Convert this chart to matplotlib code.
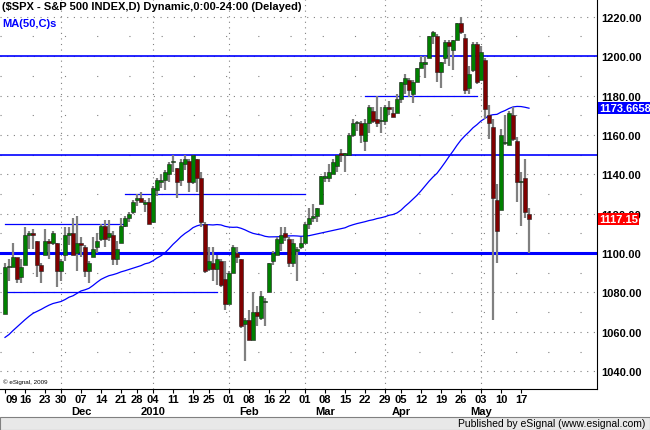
import matplotlib
matplotlib.use("Agg")
import matplotlib.pyplot as plt
import matplotlib.transforms as mtransforms
from matplotlib.patches import Rectangle
import numpy as np
import pandas as pd

# ---- data ----
month_days = {
    (2009, 11): [9,10,11,12,13,16,17,18,19,20,23,24,25,27,30],
    (2009, 12): [1,2,3,4,7,8,9,10,11,14,15,16,17,18,21,22,23,24,28,29,30,31],
    (2010, 1): [4,5,6,7,8,11,12,13,14,15,19,20,21,22,25,26,27,28,29],
    (2010, 2): [1,2,3,4,5,8,9,10,11,12,16,17,18,19,22,23,24,25,26],
    (2010, 3): [1,2,3,4,5,8,9,10,11,12,15,16,17,18,19,22,23,24,25,26,29,30,31],
    (2010, 4): [1,5,6,7,8,9,12,13,14,15,16,19,20,21,22,23,26,27,28,29,30],
    (2010, 5): [3,4,5,6,7,10,11,12,13,14,17,18,19],
}
opens = [1069,1093,1093,1098,1088,1094,1109,1110,1106,1094,1099,1106,1105,1105,1091,
 1099,1109,1110,1100,1105,1103,1091,1098,1103,1107,1114,1108,1109,1097,1105,1114,1118,1121,1127,1128,1125,1126,
 1116,1132,1136,1137,1140,1146,1143,1137,1145,1147,1136,1148,1138,1115,1092,1095,1092,1096,1087,
 1074,1090,1100,1097,1064,1066,1056,1070,1067,1075,1080,1096,1099,1105,1110,1107,1095,1101,1103,
 1105,1115,1118,1119,1125,1138,1138,1140,1144,1151,1150,1150,1160,1166,1166,1157,1166,1172,1168,1167,1167,1174,1171,
 1171,1178,1186,1188,1181,1187,1194,1196,1199,1210,1210,1192,1199,1207,1203,1208,1217,1209,1184,1193,1206,
 1188,1198,1170,1164,1127,1122,1156,1155,1170,1157,1136,1138,1120]
highs = [1095,1097,1105,1097,1097,1113,1111,1112,1106,1095,1112,1107,1111,1105,1097,
 1113,1113,1118,1119,1108,1104,1096,1108,1110,1115,1117,1117,1111,1106,1118,1119,1121,1127,1130,1131,1127,1128,
 1134,1138,1140,1142,1146,1150,1143,1148,1150,1148,1150,1148,1141,1116,1103,1103,1099,1097,1096,
 1091,1104,1103,1097,1067,1071,1080,1073,1081,1077,1095,1101,1108,1113,1113,1108,1107,1103,1108,
 1116,1123,1125,1123,1139,1141,1145,1148,1150,1153,1151,1161,1168,1167,1167,1168,1175,1174,1180,1174,1175,1177,1174,
 1181,1187,1191,1189,1188,1194,1200,1200,1210,1213,1211,1197,1208,1208,1208,1217,1220,1211,1195,1207,1207,
 1205,1199,1175,1168,1135,1163,1170,1172,1174,1159,1141,1148,1123]
lows = [1069,1086,1093,1085,1085,1094,1102,1102,1088,1085,1099,1097,1104,1083,1086,
 1096,1104,1099,1091,1098,1088,1085,1098,1100,1106,1103,1106,1094,1094,1105,1113,1116,1120,1124,1126,1121,1115,
 1116,1129,1133,1132,1136,1141,1128,1134,1142,1131,1135,1131,1113,1090,1091,1086,1084,1083,1071,
 1074,1090,1095,1062,1045,1056,1056,1063,1066,1063,1080,1094,1099,1101,1106,1093,1093,1086,1102,
 1105,1112,1116,1116,1125,1136,1136,1140,1141,1146,1141,1150,1159,1162,1156,1152,1161,1166,1164,1161,1165,1170,1169,
 1171,1176,1181,1179,1176,1187,1194,1189,1199,1206,1187,1184,1196,1195,1193,1208,1211,1181,1181,1192,1186,
 1188,1168,1158,1066,1095,1122,1155,1155,1157,1126,1114,1118,1100]
closes = [1093,1093,1098,1087,1093,1109,1110,1109,1094,1091,1106,1105,1110,1091,1096,
 1109,1110,1099,1105,1104,1091,1095,1102,1106,1114,1107,1110,1097,1102,1114,1118,1120,1126,1128,1126,1126,1115,
 1133,1137,1137,1141,1145,1147,1136,1146,1148,1136,1150,1138,1116,1091,1096,1092,1097,1084,1074,
 1090,1103,1098,1063,1066,1056,1070,1068,1078,1075,1095,1100,1107,1109,1108,1095,1105,1102,1105,
 1115,1118,1119,1123,1139,1139,1141,1146,1150,1150,1150,1160,1166,1166,1160,1166,1174,1167,1166,1167,1174,1173,1169,
 1178,1187,1189,1183,1187,1194,1197,1197,1210,1212,1192,1197,1207,1205,1208,1217,1212,1183,1191,1206,1187,
 1202,1173,1166,1128,1111,1160,1156,1171,1158,1136,1136,1121,1117.15]
# closes before the chart window (for the 50-day MA)
prior_closes = [1020,998,994,1003,1016,1025,1033,1044,1042,1049,1053,1068,1065,1071,1060,1050,
 1063,1044,1042,1062,1057,1030,1025,1040,1057,1066,1072,1071,1074,1089,1088,1093,1097,1092,
 1080,1091,1079,1067,1082,1063,1043,1036,1042,1045,1066,1070,1069,1092,1089]
full_lines = [1200, 1150]
thick_line = 1100
segments = [(1115, '2009-11-09', '2009-12-22'), (1080, '2009-11-09', '2010-01-27'),
            (1130, '2009-12-22', '2010-03-01'), (1180, '2010-03-22', '2010-04-30')]
ma_label = "1173.6658"
last_label = "1117.15"
month_names = {12: 'Dec', 1: '2010', 2: 'Feb', 3: 'Mar', 4: 'Apr', 5: 'May'}

dates = pd.to_datetime([f"{y}-{m:02d}-{d:02d}" for (y, m), ds in month_days.items() for d in ds])
n = len(dates)
x = np.arange(n)
allc = np.array(prior_closes + closes, dtype=float)
ma = pd.Series(allc).rolling(50).mean().to_numpy()[len(prior_closes):]

W, H = 650, 431
Y0, Y1 = 1031, 1229
FONT = 'Liberation Sans'
fig = plt.figure(figsize=(W/100, H/100), dpi=100)
ax = fig.add_axes([0, (H-390)/H, 597/W, 390/H])
ax.set_xlim(-1.25, 148)
ax.set_ylim(Y0, Y1)

for v in range(1040, 1230, 20):
    ax.axhline(v, color='#808080', lw=0.8, ls=(0, (1, 5)), zorder=0)
for v in range(1050, 1230, 20):
    ax.axhline(v, color='#808080', lw=0.8, ls=(0, (1, 28)), zorder=0)

wk = dates.isocalendar().week.to_numpy()
tick_idx = [0] + [i for i in range(1, n) if wk[i] != wk[i-1]]
tick_lab = [f"{dates[i].day:02d}" for i in tick_idx]
month_first = [i for i in range(1, n) if dates[i].month != dates[i-1].month]
for mi in month_first:
    t = max(t for t in tick_idx if t <= mi)
    ax.axvline(t, color='#808080', lw=0.8, ls=(0, (1, 4)), zorder=0)

for v in full_lines:
    ax.axhline(v, color='#0000ff', lw=1.2, zorder=1)
ax.axhline(thick_line, color='#0000ff', lw=2.2, zorder=1)
for v, a, b in segments:
    ia = int(np.searchsorted(dates, pd.Timestamp(a)))
    ib = int(np.searchsorted(dates, pd.Timestamp(b)))
    ax.plot([ia, ib], [v, v], color='#0000ff', lw=0.9, zorder=1)

ax.plot(x, ma, color='#0000ff', lw=0.9, zorder=2)

for i in range(n):
    o, h, l, c = opens[i], highs[i], lows[i], closes[i]
    ax.plot([i, i], [l, h], color='#808080', lw=1.6, zorder=3, solid_capstyle='butt')
    col = '#008000' if c >= o else '#800000'
    lo, hi = min(o, c), max(o, c)
    ax.add_patch(Rectangle((i-0.38, lo), 0.76, max(hi-lo, 0.6), facecolor=col,
                           edgecolor='#202020', lw=0.4, zorder=4))

for s in ['top', 'left']:
    ax.spines[s].set_visible(False)
ax.yaxis.tick_right()
ax.set_yticks(range(1040, 1221, 20))
ax.set_yticklabels([f"{v}.00" for v in range(1040, 1221, 20)], fontsize=8, fontweight='bold', family=FONT)
ax.tick_params(axis='y', length=0, pad=3)
ax.set_xticks(tick_idx)
ax.set_xticklabels(tick_lab, fontsize=8, fontweight='bold', family=FONT)
ax.tick_params(axis='x', length=3, pad=0.5)
ax.get_xticklabels()[0].set_horizontalalignment('left')

tr = mtransforms.blended_transform_factory(ax.transData, ax.transAxes)
for m, name in month_names.items():
    if m in (12, 1):
        ts = [t for t in tick_idx if dates[t].month == m]
    else:
        ts = [t for t in tick_idx if dates[t].month == m and dates[t].day > 1]
    ax.text(ts[0], -17/390, name, transform=tr, ha='center', va='top',
            fontsize=8, fontweight='bold', family=FONT)

for lab, fc in [(ma_label, '#0000ff'), (last_label, '#ff0000')]:
    ax.text(1.004, (float(lab) - Y0) / (Y1 - Y0), lab, transform=ax.transAxes,
            ha='left', va='center', color='white', fontsize=8, fontweight='bold',
            family=FONT, bbox=dict(boxstyle='square,pad=0.08', fc=fc, ec='none'), zorder=10)

ax.text(0.003, 0.995, "($SPX - S&P 500 INDEX,D) Dynamic,0:00-24:00 (Delayed)", transform=ax.transAxes,
        ha='left', va='top', fontsize=8, fontweight='bold', family=FONT, color='black')
ax.text(0.003, 0.952, "MA(50,C)s", transform=ax.transAxes, ha='left', va='top',
        fontsize=8, fontweight='bold', family=FONT, color='#0000ff')
ax.text(0.005, 0.012, "© eSignal, 2009", transform=ax.transAxes, ha='left', va='bottom',
        fontsize=4.5, family=FONT, color='black')

fig.patches.append(Rectangle((0, 0), 1, 13/H, transform=fig.transFigure, facecolor='#e8e8e8',
                             edgecolor='#808080', lw=0.8))
fig.text(0.993, 6.5/H, "Published by eSignal (www.esignal.com)", ha='right', va='center',
         fontsize=7.5, family=FONT)

fig.savefig("out.png", dpi=100)
